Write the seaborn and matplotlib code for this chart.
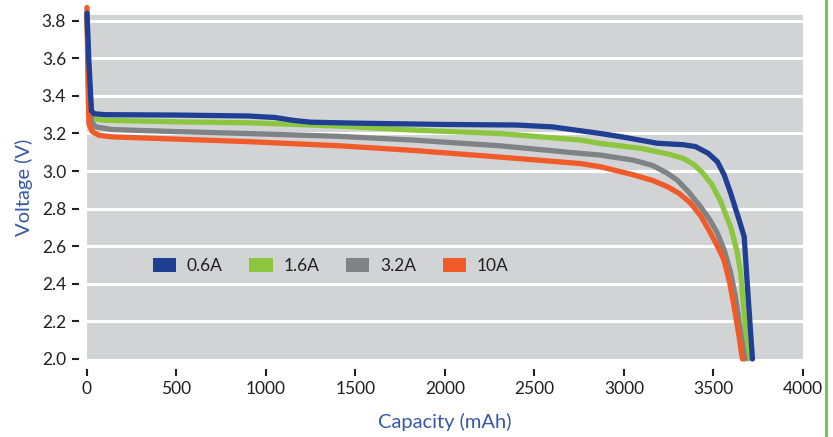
import numpy as np
import pandas as pd
import seaborn as sns
import matplotlib.pyplot as plt
from matplotlib.patches import Patch
from matplotlib.lines import Line2D


# discharge curves
currents = ['0.6A', '1.6A', '3.2A', '10A']
colors = ['#1f3f94', '#8cc63f', '#808285', '#f15a29']

cap_06 = [0, 10, 25, 40, 100, 500, 900, 1050, 1150, 1250, 1500, 2000, 2400,
          2600, 2868, 3000, 3187, 3333, 3400, 3470, 3522, 3560, 3597, 3650,
          3672, 3690, 3718]
volt_06 = [3.84, 3.60, 3.32, 3.305, 3.30, 3.298, 3.293, 3.285, 3.27, 3.26, 3.255,
           3.248, 3.245, 3.235, 3.20, 3.18, 3.148, 3.14, 3.13, 3.095, 3.05, 2.98,
           2.88, 2.72, 2.65, 2.385, 2.0]

cap_16 = [0, 10, 30, 100, 500, 900, 1400, 1820, 2300, 2756, 2868, 3100, 3250,
          3333, 3390, 3440, 3490, 3540, 3597, 3630, 3652, 3675, 3695]
volt_16 = [3.83, 3.50, 3.28, 3.27, 3.262, 3.257, 3.24, 3.218, 3.20, 3.165, 3.147,
           3.12, 3.09, 3.067, 3.035, 2.99, 2.93, 2.84, 2.70, 2.58, 2.46, 2.2, 2.0]

cap_32 = [0, 10, 25, 50, 140, 500, 890, 1400, 1820, 2300, 2756, 2868, 3053,
          3160, 3243, 3300, 3360, 3428, 3480, 3522, 3560, 3597, 3625, 3652, 3675]
volt_32 = [3.83, 3.50, 3.26, 3.235, 3.221, 3.21, 3.20, 3.185, 3.165, 3.135, 3.094,
           3.085, 3.058, 3.03, 2.988, 2.95, 2.89, 2.81, 2.74, 2.67, 2.58, 2.457,
           2.32, 2.14, 2.0]

cap_10 = [0, 5, 11, 30, 67, 140, 500, 890, 1400, 1820, 2300, 2756, 2868, 3053,
          3160, 3243, 3310, 3372, 3430, 3484, 3525, 3559, 3590, 3615, 3640, 3662]
volt_10 = [3.87, 3.50, 3.25, 3.21, 3.19, 3.182, 3.17, 3.157, 3.135, 3.11, 3.075,
           3.04, 3.023, 2.98, 2.95, 2.917, 2.88, 2.83, 2.76, 2.67, 2.595, 2.527,
           2.41, 2.28, 2.14, 2.0]

x_ticks = [0, 500, 1000, 1500, 2000, 2500, 3000, 3500, 4000]
y_ticks = [2.0, 2.2, 2.4, 2.6, 2.8, 3.0, 3.2, 3.4, 3.6, 3.8]


def build_frame():
    parts = []
    for name, cap, volt in zip(currents, [cap_06, cap_16, cap_32, cap_10],
                               [volt_06, volt_16, volt_32, volt_10]):
        parts.append(pd.DataFrame({'capacity': cap, 'voltage': volt, 'current': name}))
    return pd.concat(parts, ignore_index=True)


def main():
    sns.set_style('white', {'axes.facecolor': '#d1d3d4'})
    plt.rcParams['font.family'] = ['Lato', 'DejaVu Sans']

    df = build_frame()
    fig = plt.figure(figsize=(8.33, 4.37), dpi=100)
    ax = fig.add_axes([0.1044, 0.1785, 0.8595, 0.787])

    for y in y_ticks[1:]:
        ax.axhline(y, color='white', lw=2.2, zorder=1)

    sns.lineplot(data=df, x='capacity', y='voltage', hue='current',
                 hue_order=currents, palette=colors, estimator=None, sort=False,
                 lw=3.8, legend=False, ax=ax, zorder=3)
    for line in ax.lines[-4:]:
        line.set_clip_on(False)
        line.set_solid_joinstyle('round')
    # blue sits on top of the others in the reference
    ax.lines[-4].set_zorder(4)

    ax.set_xlim(0, 4000)
    ax.set_ylim(2.0, 3.83)
    ax.set_xticks(x_ticks)
    ax.set_yticks(y_ticks)
    ax.set_yticklabels(['{:.1f}'.format(v) for v in y_ticks])

    for side in ['top', 'right', 'left', 'bottom']:
        ax.spines[side].set_visible(False)
    ax.spines['bottom'].set_position(('outward', 7))
    ax.spines['left'].set_position(('outward', 6))
    ax.tick_params(axis='both', which='major', bottom=True, left=True,
                   length=5, width=1.5, color='#231f20', labelsize=12.5,
                   labelcolor='#231f20', pad=4)

    label_color = '#3559a8'
    ax.set_xlabel('Capacity (mAh)', fontsize=14.5, color=label_color, labelpad=11)
    ax.set_ylabel('Voltage (V)', fontsize=14.5, color=label_color, labelpad=6)

    handles = [Patch(facecolor=c, edgecolor='none', label=n)
               for c, n in zip(colors, currents)]
    ax.legend(handles=handles, loc='center left', bbox_to_anchor=(0.07, 0.27),
              ncol=4, frameon=False, fontsize=12.5, handlelength=1.35,
              handleheight=0.8, handletextpad=0.6, columnspacing=1.55,
              labelcolor='#231f20')

    fig.add_artist(Line2D([0.9916, 0.9916], [0, 1], color='#6cbd45', lw=2,
                          transform=fig.transFigure))

    fig.savefig('out.png', dpi=100)


if __name__ == '__main__':
    main()
